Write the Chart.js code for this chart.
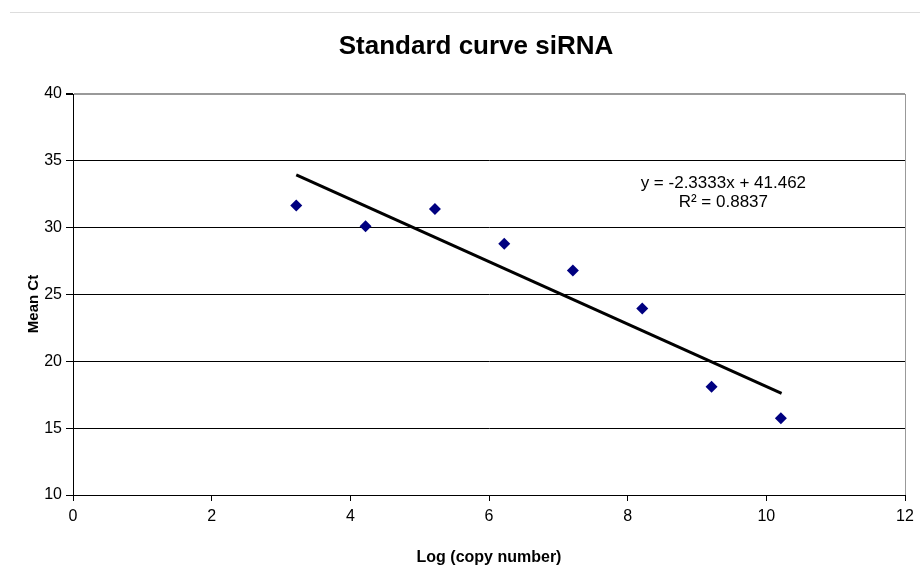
<!DOCTYPE html>
<html>
<head>
<meta charset="utf-8">
<script src="https://cdn.jsdelivr.net/npm/chart.js@4"></script>
<style>
  html, body { margin: 0; padding: 0; background: #fff; }
  #wrap { position: relative; width: 920px; height: 567px; }
  #topline { position: absolute; left: 10px; right: 0; top: 12px; border-top: 1px solid #ddd; }
</style>
</head>
<body>
<div id="wrap">
  <div id="topline"></div>
  <canvas id="chart" width="920" height="567"></canvas>
</div>
<script>
// data
const logCopy = [3.22, 4.22, 5.22, 6.22, 7.21, 8.21, 9.21, 10.21];
const meanCt = [31.65, 30.1, 31.4, 28.8, 26.8, 23.95, 18.1, 15.75];
const trendX = [3.22, 10.22];
const trendY = [33.95, 17.61];
const equationText = ['y = -2.3333x + 41.462', 'R\u00b2 = 0.8837'];
const chartTitle = 'Standard curve siRNA';
const yTitle = 'Mean Ct';

const font = 'Liberation Sans, Arial, sans-serif';

let points = [];
for (let i = 0; i < logCopy.length; i++)
    points.push({ x: logCopy[i], y: meanCt[i] });

let trend = [];
for (let i = 0; i < trendX.length; i++)
    trend.push({ x: trendX[i], y: trendY[i] });

// chart title, y title and the trendline label, placed like the original
const labels = {
    id: 'labels',
    afterDraw(chart) {
        const ctx = chart.ctx;
        ctx.save();
        ctx.fillStyle = '#000';
        ctx.textAlign = 'center';
        ctx.textBaseline = 'middle';

        ctx.font = 'bold 26px ' + font;
        ctx.fillText(chartTitle, 476, 47);

        ctx.save();
        ctx.translate(34, 304);
        ctx.rotate(-Math.PI / 2);
        ctx.font = 'bold 15px ' + font;
        ctx.fillText(yTitle, 0, 0);
        ctx.restore();

        const x = chart.scales.x.getPixelForValue(9.38);
        const y = chart.scales.y.getPixelForValue(33.3);
        ctx.font = '17px ' + font;
        ctx.fillText(equationText[0], x, y);
        ctx.fillText(equationText[1], x, y + 19);
        ctx.restore();
    }
};

new Chart('chart', {
    type: 'scatter',
    data: {
        datasets: [{
            label: 'Mean Ct',
            data: points,
            pointStyle: 'rectRot',
            pointRadius: 6,
            pointHoverRadius: 6,
            backgroundColor: '#000080',
            borderColor: '#000080',
            borderWidth: 0
        }, {
            label: 'Trend',
            type: 'line',
            data: trend,
            borderColor: '#000',
            borderWidth: 3,
            pointRadius: 0,
            fill: false
        }]
    },
    options: {
        responsive: false,
        animation: false,
        layout: { padding: { left: 0, right: 15, top: 94, bottom: 0 } },
        plugins: {
            legend: { display: false },
            tooltip: { enabled: false },
            title: { display: false }
        },
        scales: {
            x: {
                type: 'linear',
                min: 0,
                max: 12,
                afterFit: s => { s.height = 72; },
                ticks: {
                    stepSize: 2,
                    color: '#000',
                    padding: 6,
                    font: { family: font, size: 16 }
                },
                grid: {
                    drawOnChartArea: true,
                    color: c => c.tick && c.tick.value === 12 ? '#999' : 'transparent',
                    tickColor: '#000',
                    tickLength: 6,
                    lineWidth: 1
                },
                border: { color: '#000', width: 1 },
                title: {
                    display: true,
                    text: 'Log (copy number)',
                    color: '#000',
                    font: { family: font, size: 16, weight: 'bold' },
                    padding: { top: 0, bottom: 0 }
                }
            },
            y: {
                min: 10,
                max: 40,
                afterFit: s => { s.width = 73; },
                ticks: {
                    stepSize: 5,
                    color: '#000',
                    padding: 4,
                    font: { family: font, size: 16 }
                },
                grid: {
                    color: c => c.tick && c.tick.value === 40 ? '#999' : '#000',
                    lineWidth: c => c.tick && c.tick.value === 40 ? 2 : 1,
                    tickColor: '#000',
                    tickLength: 7
                },
                border: { color: '#000', width: 1 }
            }
        }
    },
    plugins: [labels]
});
</script>
</body>
</html>
